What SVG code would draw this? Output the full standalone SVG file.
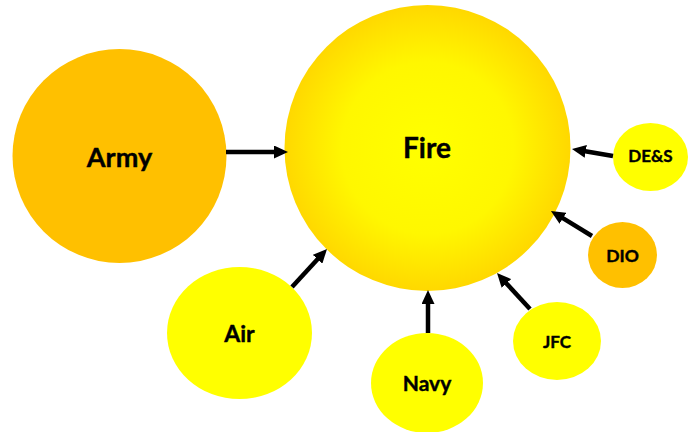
<svg xmlns="http://www.w3.org/2000/svg" width="695" height="432" viewBox="0 0 695 432">
  <defs>
    <radialGradient id="fireGrad" cx="50%" cy="50%" r="50%">
      <stop offset="0" stop-color="#FFFF00"/>
      <stop offset="0.6" stop-color="#FFF700"/>
      <stop offset="1" stop-color="#FFD800"/>
    </radialGradient>
    <marker id="head" markerUnits="userSpaceOnUse" markerWidth="14" markerHeight="13" refX="2" refY="6.5" orient="auto">
      <path d="M0,0 L14,6.5 L0,13 z" fill="#000"/>
    </marker>
    <style>
      .lbl { font-family: Lato, "Open Sans", "Liberation Sans", sans-serif; font-weight: bold; fill: #000; text-anchor: middle; stroke: #000; stroke-width: 0.4; }
      .orange { fill: #FFC000; }
      .yellow { fill: #FFFF00; }
      .conn { stroke: #000; stroke-width: 4.5; fill: none; marker-end: url(#head); }
    </style>
  </defs>
  <rect width="695" height="432" fill="#FFFFFF"/>

  <g id="army">
    <circle class="orange" cx="119.5" cy="156" r="107"/>
    <text class="lbl" x="119.5" y="166.5" font-size="27">Army</text>
  </g>

  <g id="fire">
    <circle cx="427.5" cy="148" r="143" fill="url(#fireGrad)"/>
    <text class="lbl" x="427" y="158" font-size="28">Fire</text>
  </g>

  <g id="des">
    <ellipse class="yellow" cx="650.5" cy="157" rx="37.5" ry="34"/>
    <text class="lbl" x="650.5" y="162" font-size="17">DE&amp;S</text>
  </g>

  <g id="dio">
    <ellipse class="orange" cx="622.5" cy="255" rx="34.5" ry="33"/>
    <text class="lbl" x="622.5" y="261.5" font-size="17.5">DIO</text>
  </g>

  <g id="air">
    <ellipse class="yellow" cx="239.5" cy="333" rx="72.5" ry="66"/>
    <text class="lbl" x="239.5" y="341.5" font-size="23">Air</text>
  </g>

  <g id="navy">
    <ellipse class="yellow" cx="427" cy="383" rx="56" ry="50"/>
    <text class="lbl" x="427" y="391" font-size="21">Navy</text>
  </g>

  <g id="jfc">
    <ellipse class="yellow" cx="557" cy="341" rx="44" ry="39"/>
    <text class="lbl" x="557" y="348" font-size="17">JFC</text>
  </g>

  <g id="connectors">
    <line class="conn" x1="226" y1="152" x2="276" y2="152"/>
    <line class="conn" x1="613" y1="156" x2="583.8" y2="151"/>
    <line class="conn" x1="592" y1="236" x2="561.2" y2="217.2"/>
    <line class="conn" x1="530" y1="309" x2="505.1" y2="281.9"/>
    <line class="conn" x1="428" y1="333" x2="428" y2="302"/>
    <line class="conn" x1="292" y1="287" x2="318.9" y2="257.8"/>
  </g>
</svg>
